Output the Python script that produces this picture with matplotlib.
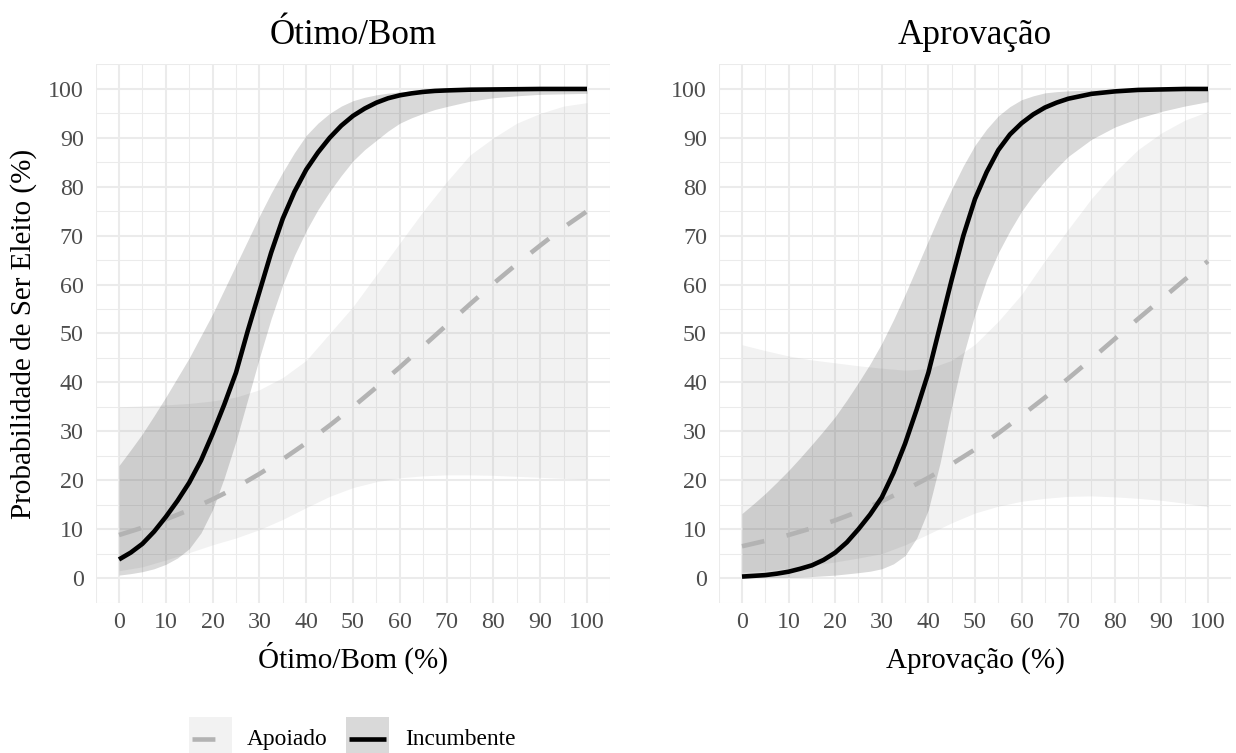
import matplotlib
matplotlib.use("Agg")
import matplotlib.pyplot as plt
from matplotlib.patches import Rectangle
from matplotlib.lines import Line2D

plt.rcParams['font.family'] = ['Liberation Serif', 'DejaVu Serif']

# ---- data -------------------------------------------------------------
# Apoiado curves are sampled every 5 points
x = [0, 5, 10, 15, 20, 25, 30, 35, 40, 45, 50, 55, 60, 65, 70, 75, 80, 85, 90, 95, 100]
# Incumbente curves are steeper, so they are sampled every 2.5 points up to 70
x_inc = [0, 2.5, 5, 7.5, 10, 12.5, 15, 17.5, 20, 22.5, 25, 27.5, 30, 32.5, 35, 37.5,
         40, 42.5, 45, 47.5, 50, 52.5, 55, 57.5, 60, 62.5, 65, 67.5, 70,
         75, 80, 85, 90, 95, 100]

# Ótimo/Bom panel
inc_fit_L = [3.8, 5.2, 7.0, 9.5, 12.5, 15.8, 19.5, 24.0, 29.5, 35.5, 42.0, 50.5, 58.5, 66.5, 73.5, 79.0,
             83.5, 87.0, 90.0, 92.5, 94.5, 96.0, 97.2, 98.1, 98.7, 99.1, 99.4, 99.6, 99.7,
             99.85, 99.9, 99.95, 100, 100, 100]
inc_lo_L = [0.6, 0.9, 1.3, 1.9, 2.8, 4.1, 6.0, 9.2, 14.0, 20.5, 28.0, 36.5, 45.0, 53.0, 60.0, 66.0,
            71.0, 75.3, 79.0, 82.3, 85.3, 87.6, 89.5, 91.4, 93.0, 94.1, 95.0, 95.8, 96.4,
            97.5, 98.2, 98.6, 98.9, 99.0, 99.1]
inc_hi_L = [23.0, 26.2, 29.5, 33.2, 37.0, 41.0, 45.0, 49.5, 54.0, 59.0, 64.0, 69.0, 74.0, 78.7, 83.0, 87.0,
            90.5, 93.0, 95.0, 96.5, 97.6, 98.3, 98.8, 99.15, 99.4, 99.55, 99.7, 99.75, 99.8,
            99.9, 99.9, 100, 100, 100, 100]
apo_fit_L = [8.8, 10.3, 12.0, 13.9, 16.1, 18.5, 21.3, 24.3, 27.6, 31.2, 35.0, 39.0, 43.1, 47.4, 51.7, 56.0, 60.2, 64.2, 68.0, 71.7, 75.0]
apo_lo_L = [1.5, 2.3, 3.7, 5.2, 6.8, 8.2, 9.9, 12.0, 14.4, 16.7, 18.5, 19.7, 20.5, 20.9, 21.1, 21.1, 21.0, 20.8, 20.6, 20.4, 20.2]
apo_hi_L = [35.0, 35.2, 35.4, 35.7, 36.2, 37.0, 38.5, 41.0, 44.5, 50.0, 55.5, 62.0, 68.5, 75.0, 81.0, 86.5, 90.0, 93.0, 95.0, 96.5, 97.2]

# Aprovação panel
inc_fit_R = [0.3, 0.45, 0.6, 0.9, 1.3, 1.9, 2.6, 3.7, 5.2, 7.3, 10.0, 13.0, 16.5, 21.5, 27.5, 34.5,
             42.0, 51.5, 61.0, 70.0, 77.5, 83.0, 87.5, 90.7, 93.0, 94.8, 96.2, 97.2, 98.0,
             99.0, 99.5, 99.8, 99.9, 100, 100]
inc_lo_R = [0.05, 0.07, 0.1, 0.12, 0.15, 0.2, 0.3, 0.45, 0.6, 0.85, 1.1, 1.4, 1.9, 2.9, 4.6, 8.2,
            14.0, 23.5, 35.0, 45.5, 54.0, 61.0, 66.5, 71.0, 75.0, 78.3, 81.2, 83.8, 86.2,
            89.7, 92.2, 94.0, 95.4, 96.5, 97.4]
inc_hi_R = [13.2, 15.2, 17.3, 19.6, 22.0, 24.6, 27.3, 30.1, 33.0, 36.4, 40.0, 43.8, 48.0, 52.8, 58.0, 63.5,
            69.0, 74.5, 79.5, 84.3, 88.5, 91.8, 94.5, 96.4, 97.8, 98.6, 99.2, 99.45, 99.6,
            99.8, 99.9, 100, 100, 100, 100]
apo_fit_R = [6.5, 7.6, 8.8, 10.2, 11.8, 13.6, 15.7, 18.0, 20.5, 23.3, 26.3, 29.6, 33.2, 36.9, 40.8, 44.8, 48.9, 53.0, 57.0, 61.0, 64.8]
apo_lo_R = [1.2, 1.5, 2.0, 2.6, 3.3, 4.1, 5.0, 6.8, 9.0, 11.3, 13.3, 14.7, 15.7, 16.3, 16.7, 16.8, 16.6, 16.3, 15.9, 15.3, 14.6]
apo_hi_R = [47.7, 46.5, 45.4, 44.6, 44.0, 43.4, 42.9, 42.5, 42.8, 44.5, 47.8, 52.5, 58.0, 64.9, 71.3, 77.6, 83.0, 87.6, 91.0, 93.6, 95.4]

titles = ["Ótimo/Bom", "Aprovação"]
xlabels = ["Ótimo/Bom (%)", "Aprovação (%)"]
ylabel = "Probabilidade de Ser Eleito (%)"
ticks = list(range(0, 101, 10))
minor_ticks = list(range(-5, 106, 10))
legend_labels = ["Apoiado", "Incumbente"]

# ---- style ------------------------------------------------------------
W, H = 1236, 753
GRID = "#EBEBEB"
APO_FILL, APO_ALPHA = "#B3B3B3", 0.17
INC_FILL, INC_ALPHA = "#000000", 0.15
APO_LINE = "#B3B3B3"
TICK_COLOR = "#4D4D4D"
LW = 3.3
DASH = (5, 5)

fig = plt.figure(figsize=(W / 100, H / 100), dpi=100)


def fx(px):
    return px / W


def fy(py):
    return 1 - py / H


panels = [
    (95.6, 610.4, inc_fit_L, inc_lo_L, inc_hi_L, apo_fit_L, apo_lo_L, apo_hi_L),
    (718.7, 1231.3, inc_fit_R, inc_lo_R, inc_hi_R, apo_fit_R, apo_lo_R, apo_hi_R),
]
top, bottom = 64.5, 602.5

for i, (l, r, ifit, ilo, ihi, afit, alo, ahi) in enumerate(panels):
    ax = fig.add_axes([fx(l), fy(bottom), (r - l) / W, (bottom - top) / H])
    ax.set_xlim(-5, 105)
    ax.set_ylim(-5, 105)
    for s in ax.spines.values():
        s.set_visible(False)
    ax.set_xticks(ticks)
    ax.set_yticks(ticks)
    ax.set_xticks(minor_ticks, minor=True)
    ax.set_yticks(minor_ticks, minor=True)
    ax.tick_params(which='both', length=0)
    ax.tick_params(axis='x', pad=6.5, labelsize=17.3, labelcolor=TICK_COLOR)
    ax.tick_params(axis='y', pad=8.5, labelsize=17.3, labelcolor=TICK_COLOR)
    ax.grid(True, which='major', color=GRID, linewidth=1.45)
    ax.grid(True, which='minor', color=GRID, linewidth=0.75)
    ax.set_axisbelow(True)

    ax.fill_between(x, alo, ahi, color=APO_FILL, alpha=APO_ALPHA, linewidth=0)
    ax.fill_between(x_inc, ilo, ihi, color=INC_FILL, alpha=INC_ALPHA, linewidth=0)
    ax.plot(x, afit, color=APO_LINE, linewidth=LW, linestyle=(0, DASH),
            dash_capstyle='butt', solid_capstyle='butt')
    ax.plot(x_inc, ifit, color="black", linewidth=LW, solid_capstyle='butt',
            solid_joinstyle='round')

    cx = fx((l + r) / 2)
    fig.text(cx, fy(44), titles[i], fontsize=25.2, ha='center', va='baseline')
    fig.text(cx, fy(668), xlabels[i], fontsize=21, ha='center', va='baseline')
    if i == 0:
        ax.set_ylabel(ylabel, fontsize=21, labelpad=8)

# ---- legend -----------------------------------------------------------
key_specs = [
    (189, APO_FILL, APO_ALPHA, APO_LINE, (0, DASH), legend_labels[0], 247),
    (346, INC_FILL, INC_ALPHA, "black", '-', legend_labels[1], 405),
]
key_top, key_size = 717, 43
for kx, fill, alpha, lcol, ls, lab, tx in key_specs:
    fig.add_artist(Rectangle((fx(kx), fy(key_top + key_size)), key_size / W, key_size / H,
                             transform=fig.transFigure, facecolor=fill, alpha=alpha,
                             edgecolor='none'))
    yc = fy(key_top + key_size / 2)
    fig.add_artist(Line2D([fx(kx + 3), fx(kx + key_size - 3)], [yc, yc],
                          transform=fig.transFigure, color=lcol, linewidth=LW,
                          linestyle=ls, dash_capstyle='butt', solid_capstyle='butt'))
    fig.text(fx(tx), fy(745), lab, fontsize=16.8, ha='left', va='baseline')

fig.savefig("out.png", dpi=100)
